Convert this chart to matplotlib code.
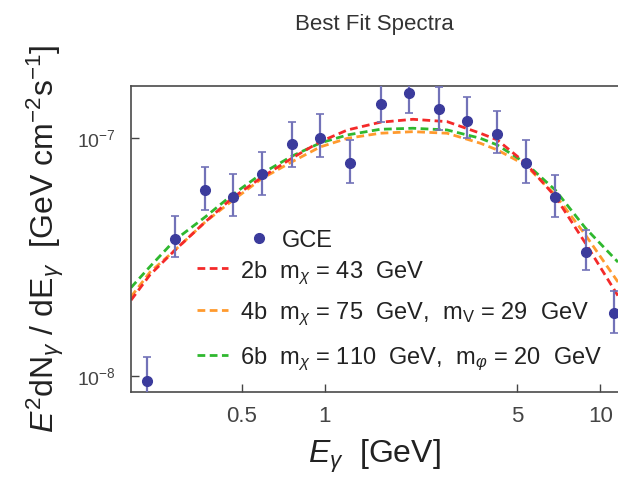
import numpy as np
import matplotlib.pyplot as plt

plt.rcParams['font.family'] = ['Liberation Sans', 'DejaVu Sans']
plt.rcParams['mathtext.fontset'] = 'custom'
plt.rcParams['mathtext.rm'] = 'Liberation Sans'
plt.rcParams['mathtext.it'] = 'Liberation Sans:italic'
plt.rcParams['mathtext.bf'] = 'Liberation Sans:bold'

# GCE data points (energy in GeV, E^2 dN/dE in GeV cm^-2 s^-1)
gce_E = [0.226, 0.286, 0.366, 0.466, 0.594, 0.760, 0.962, 1.24, 1.60,
         2.03, 2.59, 3.28, 4.22, 5.37, 6.86, 8.89, 11.2]
gce_flux = [9.5e-9, 3.76e-8, 6.05e-8, 5.68e-8, 7.07e-8, 9.43e-8, 1.006e-7, 7.85e-8, 1.39e-7,
            1.55e-7, 1.33e-7, 1.186e-7, 1.04e-7, 7.85e-8, 5.68e-8, 3.33e-8, 1.84e-8]
gce_lo = [7.5e-9, 3.16e-8, 4.99e-8, 4.71e-8, 5.77e-8, 7.59e-8, 8.32e-8, 6.5e-8, 1.175e-7,
          1.274e-7, 1.084e-7, 1.0e-7, 8.67e-8, 6.5e-8, 4.68e-8, 2.79e-8, 1.52e-8]
gce_hi = [1.2e-8, 4.71e-8, 7.55e-8, 7.05e-8, 8.78e-8, 1.175e-7, 1.262e-7, 9.84e-8, 1.73e-7,
          1.88e-7, 1.64e-7, 1.497e-7, 1.30e-7, 9.84e-8, 7.0e-8, 4.1e-8, 2.28e-8]

# best fit curves
fit_E = [0.198, 0.232, 0.286, 0.368, 0.461, 0.593, 0.762, 0.962, 1.21,
         1.59, 2.09, 2.78, 3.67, 4.23, 5.35, 6.87, 8.83, 11.6]
fit_2b = [2.08e-8, 2.66e-8, 3.38e-8, 4.44e-8, 5.60e-8, 6.87e-8, 8.26e-8, 9.67e-8, 1.084e-7,
          1.168e-7, 1.202e-7, 1.175e-7, 1.05e-7, 9.84e-8, 7.87e-8, 5.68e-8, 3.62e-8, 2.17e-8]
fit_4b = [2.15e-8, 2.73e-8, 3.38e-8, 4.44e-8, 5.45e-8, 6.78e-8, 7.97e-8, 9.19e-8, 1.0e-7,
          1.05e-7, 1.066e-7, 1.05e-7, 9.53e-8, 8.93e-8, 7.72e-8, 5.77e-8, 3.92e-8, 2.48e-8]
fit_6b = [2.35e-8, 2.88e-8, 3.73e-8, 4.66e-8, 5.77e-8, 7.12e-8, 8.42e-8, 9.55e-8, 1.033e-7,
          1.091e-7, 1.102e-7, 1.084e-7, 1.0e-7, 9.37e-8, 7.87e-8, 6.05e-8, 4.19e-8, 3.01e-8]

labels = [r'2b  m$_{\chi}$ = 43  GeV',
          r'4b  m$_{\chi}$ = 75  GeV,  m$_{\mathrm{V}}$ = 29  GeV',
          r'6b  m$_{\chi}$ = 110  GeV,  m$_{\varphi}$ = 20  GeV']
colors = ['#f42a2a', '#ff9a2e', '#2fb82f']

fig = plt.figure(figsize=(6.18, 4.8), dpi=100)
ax = fig.add_axes([131/618, 88/480, 487/618, 306/480])

fits = [fit_2b, fit_4b, fit_6b]
for i in [1, 2, 0]:
    ax.plot(fit_E, fits[i], color=colors[i], lw=2.0, dashes=(2.8, 1.6), zorder=2)

flux = np.array(gce_flux)
yerr = [flux - np.array(gce_lo), np.array(gce_hi) - flux]
ax.errorbar(gce_E, flux, yerr=yerr, fmt='o', color='#3b3b9c', ms=7,
            ecolor='#7272b8', elinewidth=1.6, capsize=3, capthick=1.2, zorder=3)

ax.set_xscale('log')
ax.set_yscale('log')
ax.set_xlim(0.198, 11.6)
ax.set_ylim(8.54e-9, 1.66e-7)

ax.set_xticks([0.5, 1, 5, 10])
ax.set_xticklabels(['0.5', '1', '5', '10'])
ax.set_yticks([1e-8, 1e-7])
ax.set_yticklabels([r'$10^{-8}$', r'$10^{-7}$'])
ax.minorticks_off()
ax.tick_params(direction='in', length=6, width=1, colors='#444444', labelsize=16, pad=10)
ax.tick_params(axis='y', labelsize=14, pad=11)

for s in ['left', 'bottom', 'top']:
    ax.spines[s].set_color('#4a4a4a')
    ax.spines[s].set_linewidth(1.2)
ax.spines['right'].set_visible(False)

ax.set_title('Best Fit Spectra', fontsize=16, color='#333333', pad=40)
ax.set_xlabel(r'$E_{\gamma}$  [GeV]', fontsize=23, color='#222222', labelpad=8)
ax.set_ylabel(r'$E^2$dN$_{\gamma}$ / dE$_{\gamma}$  [GeV cm$^{-2}$s$^{-1}$]',
              fontsize=23, color='#222222', labelpad=8)

# legend drawn by hand to match the spacing of the original
tr = ax.transAxes
ax.plot([0.263], [0.502], 'o', color='#3b3b9c', ms=7, transform=tr, clip_on=False)
ax.text(0.309, 0.502, 'GCE', transform=tr, fontsize=17, va='center_baseline', color='#222222')
rows_y = [0.404, 0.268, 0.121]
for i in range(3):
    ax.plot([0.135, 0.200], [rows_y[i], rows_y[i]], color=colors[i], lw=2.0,
            dashes=(2.8, 1.6), transform=tr, clip_on=False)
    ax.text(0.224, rows_y[i], labels[i], transform=tr, fontsize=17,
            va='center_baseline', color='#222222')

fig.savefig('out.png', dpi=100)
